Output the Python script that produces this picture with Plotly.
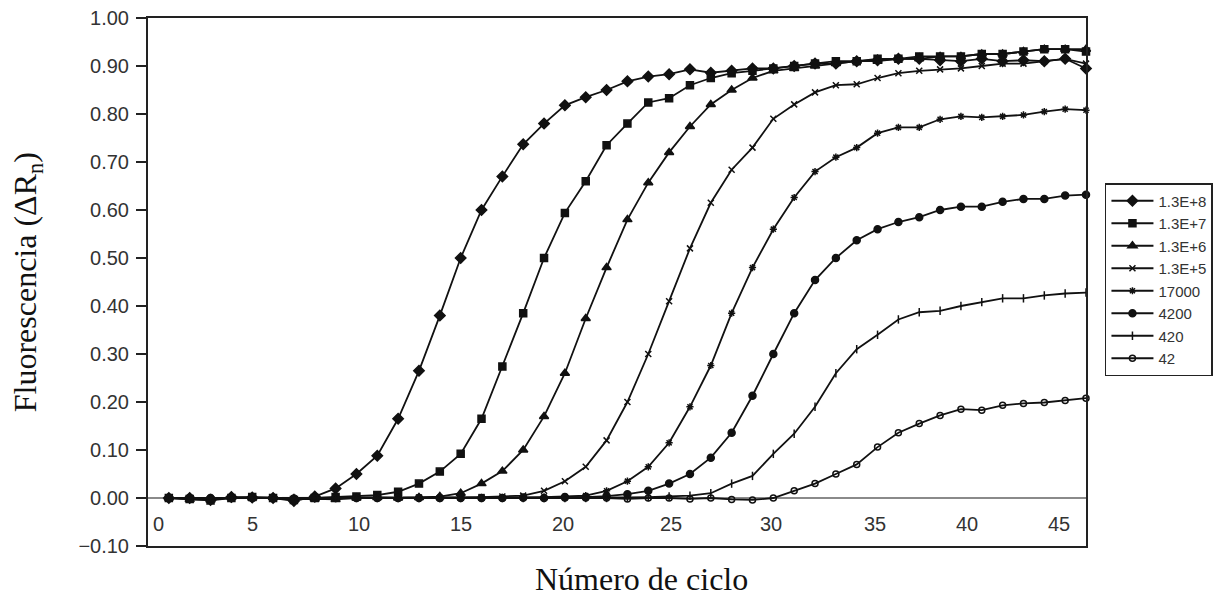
import plotly.graph_objects as go

cycles = list(range(1, 46))

series_names = ["1.3E+8", "1.3E+7", "1.3E+6", "1.3E+5", "17000", "4200", "420", "42"]

s_13e8 = [0.000, 0.000, -0.004, 0.002, 0.001, 0.000, -0.006, 0.003, 0.020, 0.050,
          0.088, 0.165, 0.265, 0.380, 0.500, 0.600, 0.670, 0.737, 0.780, 0.818,
          0.835, 0.850, 0.868, 0.878, 0.883, 0.893, 0.886, 0.890, 0.895, 0.895,
          0.900, 0.905, 0.905, 0.910, 0.912, 0.915, 0.915, 0.912, 0.910, 0.915,
          0.910, 0.912, 0.910, 0.915, 0.895]
s_13e7 = [0.000, -0.002, -0.005, 0.000, 0.002, 0.000, -0.004, 0.000, 0.002, 0.003,
          0.006, 0.013, 0.030, 0.055, 0.092, 0.165, 0.274, 0.385, 0.500, 0.594,
          0.660, 0.735, 0.780, 0.824, 0.833, 0.860, 0.875, 0.885, 0.890, 0.895,
          0.900, 0.905, 0.910, 0.910, 0.915, 0.915, 0.920, 0.920, 0.920, 0.925,
          0.925, 0.930, 0.935, 0.935, 0.930]
s_13e6 = [0.000, -0.003, -0.004, 0.001, 0.000, 0.001, -0.003, -0.002, -0.003, 0.000,
          0.001, 0.000, 0.001, 0.003, 0.010, 0.030, 0.056, 0.100, 0.170, 0.260,
          0.374, 0.480, 0.580, 0.657, 0.720, 0.774, 0.820, 0.850, 0.875, 0.890,
          0.895, 0.900, 0.905, 0.910, 0.910, 0.915, 0.915, 0.920, 0.920, 0.925,
          0.925, 0.930, 0.935, 0.935, 0.935]
s_13e5 = [0.000, 0.000, -0.002, 0.000, 0.001, 0.000, -0.002, 0.000, 0.000, 0.001,
          0.000, 0.000, 0.001, 0.000, 0.001, 0.002, 0.003, 0.005, 0.015, 0.035,
          0.065, 0.120, 0.200, 0.300, 0.410, 0.520, 0.615, 0.684, 0.730, 0.790,
          0.820, 0.845, 0.860, 0.862, 0.875, 0.885, 0.890, 0.893, 0.895, 0.900,
          0.905, 0.905, 0.910, 0.915, 0.905]
s_17000 = [0.000, 0.000, -0.001, 0.000, 0.000, 0.000, -0.002, 0.000, 0.000, 0.000,
           0.000, 0.000, 0.000, 0.000, 0.001, 0.000, 0.001, 0.001, 0.002, 0.003,
           0.005, 0.015, 0.035, 0.065, 0.115, 0.190, 0.276, 0.385, 0.480, 0.560,
           0.626, 0.680, 0.710, 0.730, 0.760, 0.772, 0.772, 0.789, 0.795, 0.793,
           0.795, 0.798, 0.805, 0.810, 0.808]
s_4200 = [0.000, 0.000, 0.000, 0.000, 0.000, 0.000, -0.002, 0.000, 0.000, 0.000,
          0.000, 0.000, 0.000, 0.000, 0.000, 0.000, 0.000, 0.001, 0.000, 0.002,
          0.002, 0.004, 0.008, 0.015, 0.030, 0.050, 0.084, 0.136, 0.213, 0.300,
          0.385, 0.454, 0.500, 0.537, 0.560, 0.575, 0.585, 0.600, 0.607, 0.607,
          0.617, 0.623, 0.623, 0.630, 0.632]
s_420 = [0.000, 0.000, 0.000, 0.000, 0.000, 0.000, 0.000, 0.000, 0.000, 0.000,
         0.000, 0.000, 0.000, 0.000, 0.000, 0.000, 0.000, 0.000, 0.000, 0.000,
         0.000, 0.000, 0.001, 0.002, 0.003, 0.005, 0.010, 0.030, 0.046, 0.092,
         0.134, 0.190, 0.260, 0.310, 0.340, 0.372, 0.387, 0.390, 0.400, 0.408,
         0.416, 0.416, 0.422, 0.426, 0.428]
s_42 = [0.000, 0.000, 0.000, 0.000, 0.000, 0.000, 0.000, 0.000, 0.000, 0.000,
        0.000, 0.000, 0.000, 0.000, 0.000, 0.000, 0.000, 0.000, 0.000, 0.000,
        0.000, 0.000, -0.002, 0.000, 0.000, -0.002, 0.000, -0.003, -0.004, 0.000,
        0.015, 0.030, 0.050, 0.070, 0.106, 0.136, 0.155, 0.172, 0.185, 0.183,
        0.193, 0.197, 0.199, 0.203, 0.208]
baseline = [0.000, 0.000, 0.000, 0.000, 0.000, 0.000, 0.000, 0.000, 0.000, 0.000,
            0.000, 0.000, 0.000, 0.000, 0.000, 0.000, 0.000, 0.000, 0.000, 0.000,
            0.000, 0.000, 0.000, 0.000, 0.000, 0.000, 0.000, 0.000, 0.000, 0.000,
            0.000, 0.000, 0.000, 0.000, 0.000, 0.000, 0.000, 0.000, 0.000, 0.000,
            0.000, 0.000, 0.000, 0.000, 0.000]

all_series = [s_13e8, s_13e7, s_13e6, s_13e5, s_17000, s_4200, s_420, s_42]

y_tick_vals = [-0.10, 0.00, 0.10, 0.20, 0.30, 0.40, 0.50, 0.60, 0.70, 0.80, 0.90, 1.00]
y_tick_text = ["\u22120.10", "0.00", "0.10", "0.20", "0.30", "0.40", "0.50",
               "0.60", "0.70", "0.80", "0.90", "1.00"]
x_tick_text = ["0", "5", "10", "15", "20", "25", "30", "35", "40", "45"]
# where the reference draws each x tick label (in cycle units)
x_tick_label_pos = [0.5, 5.0, 10.1, 15.0, 19.9, 25.1, 29.9, 34.9, 39.3, 43.7]

symbols = ["diamond", "square", "triangle-up", "x-thin-open", "asterisk-open",
           "circle", "line-ns-open", "circle-open"]
sizes = [8, 7, 8, 6, 6, 7, 6, 6]

fig = go.Figure()

fig.add_trace(go.Scatter(
    x=[0] + cycles, y=[0.0] + baseline, mode="lines",
    line=dict(color="#8a8a8a", width=2), showlegend=False, hoverinfo="skip"))

for name, vals, sym, sz in zip(series_names, all_series, symbols, sizes):
    fig.add_trace(go.Scatter(
        x=cycles, y=vals, name=name, mode="lines+markers",
        line=dict(color="#111111", width=1.8),
        marker=dict(symbol=sym, size=sz, color="#111111",
                    line=dict(color="#111111", width=1.5)),
        cliponaxis=False))

tick_font = dict(size=20, color="#333333", family="Liberation Sans, Arial, sans-serif")
title_font = dict(family="Liberation Serif, Times New Roman, serif", size=32, color="#111111")

annotations = [
    dict(text="Número de ciclo", xref="paper", yref="paper",
         x=0.5266, y=-0.0625, xanchor="center", yanchor="middle", showarrow=False,
         font=title_font),
    dict(text="Fluorescencia (\u0394R<sub>n</sub>)", xref="paper", yref="paper",
         x=-0.1287, y=0.50, xanchor="center", yanchor="middle", textangle=-90,
         showarrow=False, font=title_font),
]
for pos, txt in zip(x_tick_label_pos, x_tick_text):
    annotations.append(dict(text=txt, x=pos, y=-0.054, xref="x", yref="y",
                            xanchor="center", yanchor="middle", showarrow=False,
                            font=tick_font))

fig.update_layout(
    width=1215, height=590,
    margin=dict(l=140, r=135, t=10, b=52),
    paper_bgcolor="white", plot_bgcolor="white",
    font=dict(family="Liberation Sans, Arial, sans-serif", color="#333333"),
    legend=dict(
        x=1.0202, y=0.6875, xanchor="left", yanchor="top",
        bordercolor="#222222", borderwidth=1.5, bgcolor="white",
        font=dict(size=15, color="#333333", family="Liberation Sans, Arial, sans-serif"),
        itemwidth=42, tracegroupgap=0),
    annotations=annotations,
)

fig.update_xaxes(
    range=[0, 45], showticklabels=False, ticks="", automargin=False,
    showline=True, linecolor="#222222", linewidth=2, mirror=True,
    showgrid=False, zeroline=False)

fig.update_yaxes(
    range=[-0.10, 1.00], tickmode="array", tickvals=y_tick_vals, ticktext=y_tick_text,
    ticks="outside", ticklen=10, tickwidth=2, tickcolor="#222222", automargin="left",
    ticklabelstandoff=3, ticklabeloverflow="allow",
    tickfont=tick_font,
    showline=True, linecolor="#222222", linewidth=2, mirror=True,
    showgrid=False, zeroline=False)

fig.write_html("out.html")
